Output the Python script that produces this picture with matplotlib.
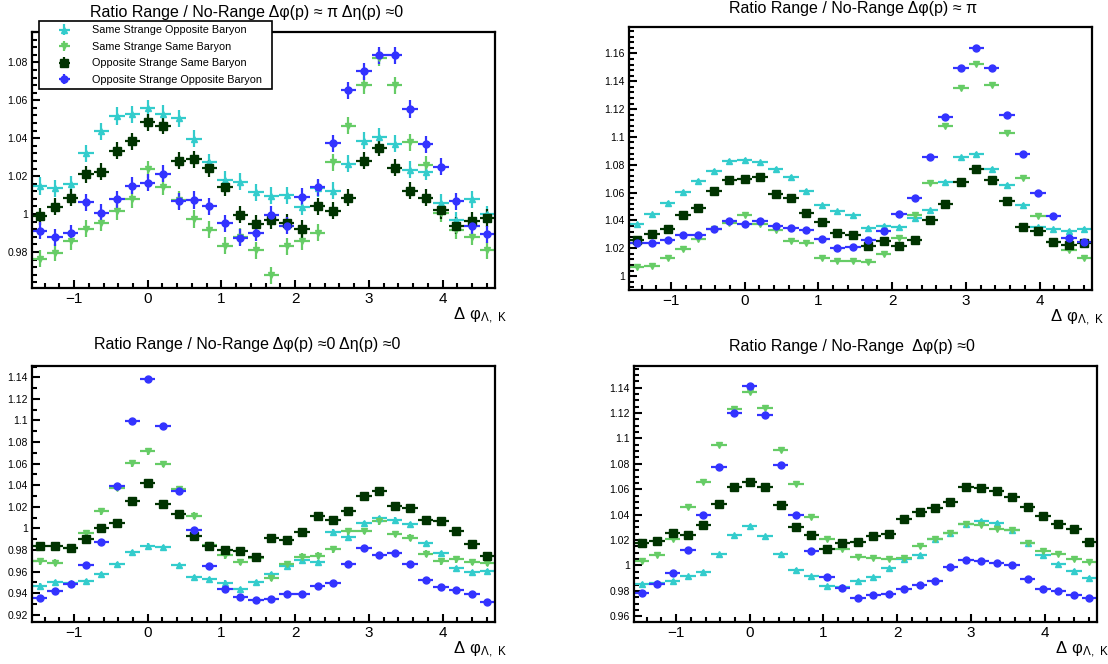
import numpy as np
import matplotlib
matplotlib.use("Agg")
import matplotlib.pyplot as plt
from matplotlib.ticker import MultipleLocator, FuncFormatter
from matplotlib.transforms import offset_copy

plt.rcParams['font.family'] = ['Liberation Sans', 'DejaVu Sans']

# === data: 30 bins in delta phi from -pi/2 to 3pi/2 ===
n_bins = 30
edges = np.linspace(-np.pi / 2, 3 * np.pi / 2, n_bins + 1)
centers = 0.5 * (edges[1:] + edges[:-1])
half_w = 0.5 * (edges[1] - edges[0])

labels = ["Same Strange Opposite Baryon", "Same Strange Same Baryon",
          "Opposite Strange Same Baryon", "Opposite Strange Opposite Baryon"]

# panel 1: dphi(p) ~ pi, deta(p) ~ 0
p1_ssob = [1.0148, 1.0136, 1.0157, 1.0320, 1.0437, 1.0517, 1.0527, 1.0559, 1.0529, 1.0506,
           1.0397, 1.0272, 1.0182, 1.0170, 1.0114, 1.0097, 1.0100, 1.0039, 1.0135, 1.0124,
           1.0265, 1.0387, 1.0407, 1.0372, 1.0233, 1.0223, 1.0060, 0.9968, 1.0079, 0.9998]
p1_sssb = [0.9765, 0.9797, 0.9857, 0.9922, 0.9954, 1.0016, 1.0079, 1.0236, 1.0145, 1.0074,
           0.9974, 0.9917, 0.9833, 0.9880, 0.9808, 0.9676, 0.9829, 0.9858, 0.9902, 1.0273,
           1.0466, 1.0680, 1.0824, 1.0679, 1.0378, 1.0260, 1.0005, 0.9914, 0.9880, 0.9810]
p1_ossb = [0.9988, 1.0039, 1.0085, 1.0210, 1.0222, 1.0335, 1.0383, 1.0483, 1.0466, 1.0282,
           1.0289, 1.0242, 1.0141, 0.9997, 0.9950, 0.9967, 0.9953, 0.9921, 1.0041, 1.0017,
           1.0086, 1.0281, 1.0350, 1.0244, 1.0123, 1.0086, 1.0019, 0.9938, 0.9965, 0.9979]
p1_osob = [0.9912, 0.9878, 0.9898, 1.0062, 1.0007, 1.0078, 1.0150, 1.0166, 1.0213, 1.0067,
           1.0074, 1.0042, 0.9951, 0.9874, 0.9902, 0.9997, 0.9938, 1.0091, 1.0140, 1.0373,
           1.0653, 1.0753, 1.0838, 1.0838, 1.0554, 1.0369, 1.0249, 1.0067, 0.9935, 0.9894]

# panel 2: dphi(p) ~ pi
p2_ssob = [1.0372, 1.0444, 1.0525, 1.0607, 1.0686, 1.0756, 1.0830, 1.0835, 1.0818, 1.0770,
           1.0715, 1.0612, 1.0509, 1.0465, 1.0437, 1.0345, 1.0362, 1.0355, 1.0417, 1.0473,
           1.0679, 1.0854, 1.0878, 1.0770, 1.0655, 1.0511, 1.0350, 1.0335, 1.0325, 1.0338]
p2_sssb = [1.0062, 1.0072, 1.0130, 1.0194, 1.0268, 1.0335, 1.0385, 1.0442, 1.0371, 1.0333,
           1.0255, 1.0238, 1.0130, 1.0110, 1.0106, 1.0098, 1.0156, 1.0273, 1.0437, 1.0672,
           1.1077, 1.1353, 1.1523, 1.1374, 1.1029, 1.0703, 1.0434, 1.0248, 1.0185, 1.0130]
p2_ossb = [1.0259, 1.0300, 1.0341, 1.0437, 1.0489, 1.0609, 1.0688, 1.0696, 1.0710, 1.0590,
           1.0559, 1.0453, 1.0389, 1.0307, 1.0293, 1.0216, 1.0252, 1.0216, 1.0259, 1.0403,
           1.0518, 1.0676, 1.0768, 1.0691, 1.0540, 1.0352, 1.0324, 1.0245, 1.0221, 1.0237]
p2_osob = [1.0237, 1.0237, 1.0259, 1.0297, 1.0297, 1.0336, 1.0393, 1.0372, 1.0396, 1.0360,
           1.0343, 1.0331, 1.0269, 1.0201, 1.0211, 1.0259, 1.0324, 1.0449, 1.0559, 1.0854,
           1.1140, 1.1494, 1.1638, 1.1497, 1.1159, 1.0876, 1.0600, 1.0430, 1.0276, 1.0247]

# panel 3: dphi(p) ~ 0, deta(p) ~ 0
p3_ssob = [0.9469, 0.9503, 0.9494, 0.9512, 0.9574, 0.9667, 0.9781, 0.9840, 0.9827, 0.9657,
           0.9552, 0.9528, 0.9497, 0.9435, 0.9503, 0.9577, 0.9648, 0.9710, 0.9691, 0.9970,
           0.9920, 1.0047, 1.0096, 1.0081, 1.0041, 0.9861, 0.9769, 0.9630, 0.9596, 0.9602]
p3_sssb = [0.9694, 0.9682, 0.9821, 0.9954, 1.0158, 1.0374, 1.0603, 1.0714, 1.0597, 1.0365,
           1.0118, 0.9843, 0.9750, 0.9688, 0.9728, 0.9540, 0.9667, 0.9738, 0.9747, 0.9806,
           0.9973, 0.9976, 1.0065, 0.9948, 0.9914, 0.9766, 0.9694, 0.9713, 0.9688, 0.9679]
p3_ossb = [0.9837, 0.9840, 0.9818, 0.9898, 1.0003, 1.0053, 1.0251, 1.0424, 1.0229, 1.0136,
           0.9929, 0.9840, 0.9803, 0.9793, 0.9738, 0.9914, 0.9892, 0.9966, 1.0112, 1.0081,
           1.0161, 1.0303, 1.0350, 1.0204, 1.0186, 1.0081, 1.0071, 0.9976, 0.9858, 0.9747]
p3_osob = [0.9355, 0.9423, 0.9481, 0.9657, 0.9871, 1.0396, 1.0999, 1.1385, 1.0952, 1.0346,
           0.9988, 0.9648, 0.9438, 0.9364, 0.9339, 0.9342, 0.9389, 0.9395, 0.9463, 0.9497,
           0.9667, 0.9821, 0.9750, 0.9772, 0.9667, 0.9524, 0.9453, 0.9426, 0.9389, 0.9317]

# panel 4: dphi(p) ~ 0
p4_ssob = [0.9855, 0.9865, 0.9879, 0.9915, 0.9949, 1.0089, 1.0236, 1.0312, 1.0231, 1.0091,
           0.9968, 0.9915, 0.9836, 0.9834, 0.9881, 0.9907, 0.9978, 1.0047, 1.0083, 1.0207,
           1.0254, 1.0323, 1.0351, 1.0336, 1.0280, 1.0175, 1.0083, 1.0015, 0.9957, 0.9905]
p4_sssb = [1.0039, 1.0083, 1.0210, 1.0457, 1.0656, 1.0948, 1.1229, 1.1366, 1.1239, 1.0906,
           1.0638, 1.0378, 1.0212, 1.0131, 1.0070, 1.0055, 1.0047, 1.0055, 1.0154, 1.0212,
           1.0257, 1.0325, 1.0320, 1.0288, 1.0283, 1.0173, 1.0110, 1.0089, 1.0047, 1.0030]
p4_ossb = [1.0178, 1.0196, 1.0252, 1.0236, 1.0320, 1.0485, 1.0614, 1.0659, 1.0619, 1.0478,
           1.0299, 1.0241, 1.0131, 1.0173, 1.0186, 1.0228, 1.0249, 1.0367, 1.0417, 1.0454,
           1.0501, 1.0614, 1.0606, 1.0588, 1.0535, 1.0464, 1.0386, 1.0328, 1.0288, 1.0181]
p4_osob = [0.9781, 0.9852, 0.9942, 1.0123, 1.0399, 1.0772, 1.1197, 1.1410, 1.1184, 1.0793,
           1.0401, 1.0115, 0.9907, 0.9826, 0.9747, 0.9771, 0.9779, 0.9815, 0.9844, 0.9881,
           0.9991, 1.0044, 1.0036, 1.0023, 1.0007, 0.9894, 0.9813, 0.9802, 0.9771, 0.9745]

# stat. errors per panel and series (ssob, sssb, ossb, osob)
p1_err = [0.0045, 0.0045, 0.0045, 0.0045]
p2_err = [0.0012, 0.0012, 0.0012, 0.0012]
p3_err = [0.0020, 0.0030, 0.0030, 0.0015]
p4_err = [0.0012, 0.0012, 0.0012, 0.0012]

titles = ["Ratio Range / No-Range \u0394\u03c6(p) \u2248 \u03c0 \u0394\u03b7(p) \u22480",
          "Ratio Range / No-Range \u0394\u03c6(p) \u2248 \u03c0",
          "Ratio Range / No-Range \u0394\u03c6(p) \u22480 \u0394\u03b7(p) \u22480",
          "Ratio Range / No-Range  \u0394\u03c6(p) \u22480"]

colors = ['#33CCCC', '#66CC66', '#003300', '#3333FF']
markers = ['^', 'v', 's', 'o']

# === layout (pixels of a 1108x664 canvas) ===
W, H = 1108, 664
frames = [(32, 32, 495, 288), (629, 27, 1092, 290),
          (32, 366, 495, 622), (634, 366, 1097, 622)]
ylims = [(0.961, 1.096), (0.990, 1.179), (0.9132, 1.1505), (0.9555, 1.157)]
yminor = [0.004, 0.004, 0.01, 0.005]
title_pos = [(247, 12), (853, 8), (247, 345), (852, 346)]

panels = [[p1_ssob, p1_sssb, p1_ossb, p1_osob],
          [p2_ssob, p2_sssb, p2_ossb, p2_osob],
          [p3_ssob, p3_sssb, p3_ossb, p3_osob],
          [p4_ssob, p4_sssb, p4_ossb, p4_osob]]
errors = [p1_err, p2_err, p3_err, p4_err]

fig = plt.figure(figsize=(W / 100, H / 100), dpi=100)
fmt = FuncFormatter(lambda v, p: ('%.2f' % v).rstrip('0').rstrip('.'))

for k in range(4):
    x0, y0, x1, y1 = frames[k]
    ax = fig.add_axes([x0 / W, 1 - y1 / H, (x1 - x0) / W, (y1 - y0) / H])
    handles = []
    for s in range(4):
        h = ax.errorbar(centers, panels[k][s], xerr=half_w, yerr=errors[k][s],
                        fmt=markers[s], color=colors[s], ms=5 if s != 2 else 5.5,
                        elinewidth=1.6, capsize=0, linestyle='none', label=labels[s])
        handles.append(h)
    ax.set_xlim(edges[0], edges[-1])
    ax.set_ylim(*ylims[k])
    ax.xaxis.set_major_locator(MultipleLocator(1))
    ax.xaxis.set_minor_locator(MultipleLocator(0.2))
    ax.yaxis.set_major_locator(MultipleLocator(0.02))
    ax.yaxis.set_minor_locator(MultipleLocator(yminor[k]))
    ax.yaxis.set_major_formatter(fmt)
    ax.tick_params(which='both', direction='in', top=False, right=False, width=1.5)
    ax.tick_params(which='major', length=6)
    ax.tick_params(which='minor', length=3.5)
    ax.tick_params(axis='x', labelsize=11, pad=3)
    ax.tick_params(axis='y', labelsize=7.5, pad=3)
    for sp in ax.spines.values():
        sp.set_linewidth(1.6)

    # axis title below the right end of the x axis
    tr = offset_copy(ax.transAxes, fig=fig, x=12, y=-28, units='dots')
    ax.text(1.0, 0.0, r'$\mathregular{\Delta\ \varphi_{\Lambda,\ K}}$', transform=tr,
            ha='right', va='center', fontsize=12)

    tx, ty = title_pos[k]
    fig.text(tx / W, 1 - ty / H, titles[k], ha='center', va='center', fontsize=11.5)

    if k == 0:
        leg = ax.legend(handles=handles, loc='upper left',
                        bbox_to_anchor=(7 / 463, 1 + 11 / 256, 233 / 463, 0),
                        mode='expand', borderaxespad=0, fontsize=7.8,
                        fancybox=False, edgecolor='black', framealpha=1,
                        handlelength=3.9, labelspacing=0.6, borderpad=0.4,
                        handletextpad=0.6)
        leg.get_frame().set_linewidth(1.2)
        leg.set_zorder(10)

fig.savefig("out.png", dpi=100)
